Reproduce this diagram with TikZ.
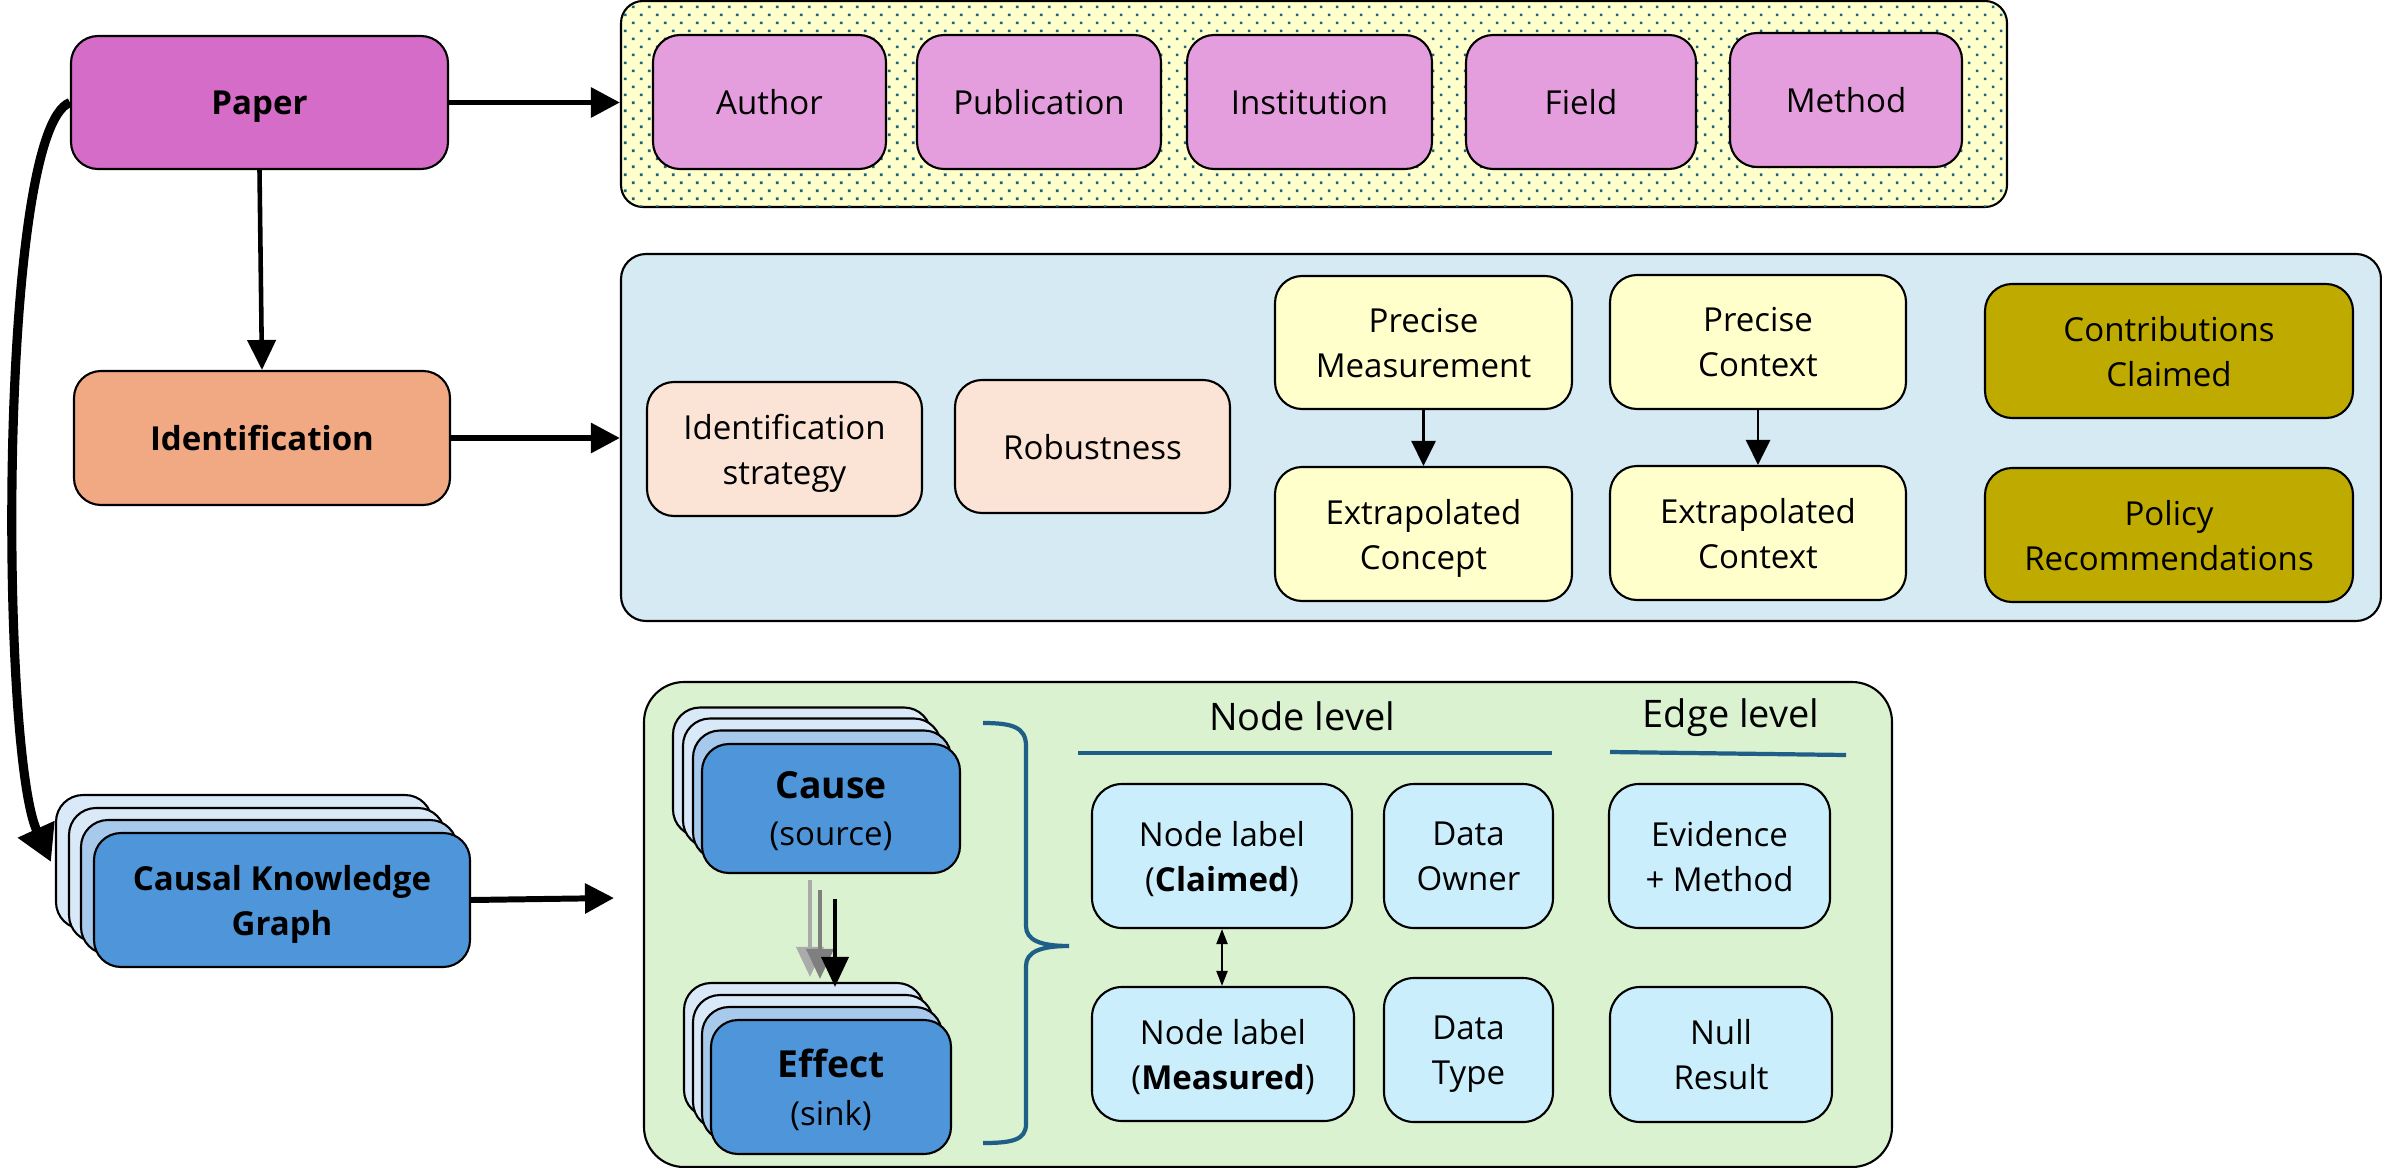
\documentclass[tikz,border=0pt]{standalone}
\usepackage{fontspec}
\setmainfont{Open Sans}
\usetikzlibrary{arrows.meta,calc,patterns}

\definecolor{paperc}{HTML}{D56CC7}
\definecolor{attrc}{HTML}{E49EDD}
\definecolor{identc}{HTML}{F1A983}
\definecolor{peachc}{HTML}{FBE3D6}
\definecolor{creamc}{HTML}{FFFFCC}
\definecolor{olivec}{HTML}{BFAB00}
\definecolor{ckgc}{HTML}{4E95D9}
\definecolor{ckgmid}{HTML}{A6C9EC}
\definecolor{ckglight}{HTML}{DAE9F8}
\definecolor{skyc}{HTML}{CAEEFB}
\definecolor{yellowbg}{HTML}{FFFFCC}
\definecolor{dotc}{HTML}{1F6382}
\definecolor{bluebg}{HTML}{D6EAF4}
\definecolor{stripec}{HTML}{E1E8EC}
\definecolor{greenbg}{HTML}{DAF2D0}
\definecolor{dashc}{HTML}{E6ECE2}
\definecolor{tealc}{HTML}{1F5F87}
\definecolor{greyA}{HTML}{ABABAB}
\definecolor{greyB}{HTML}{7F7F7F}

% staggered dot grid: 1.6mm cells, one dot per half-cell row
\pgfdeclarepatternformonly{yeldots}{\pgfqpoint{-0.1pt}{-0.1pt}}{\pgfqpoint{4.65pt}{4.65pt}}{\pgfqpoint{4.552pt}{4.552pt}}{
  \pgfpathrectangle{\pgfqpoint{0pt}{0pt}}{\pgfqpoint{0.74pt}{0.74pt}}
  \pgfpathrectangle{\pgfqpoint{2.276pt}{2.276pt}}{\pgfqpoint{0.74pt}{0.74pt}}
  \pgfusepath{fill}}

\newcommand\txtsize{\fontsize{9.4}{12.8}\selectfont}
\newcommand\cardsize{\fontsize{9.4}{13.6}\selectfont}
\newcommand\hdrsize{\fontsize{10.8}{13}\selectfont}
\newcommand\bigsize{\fontsize{10.6}{13.4}\selectfont}

\begin{document}
\begin{tikzpicture}[x=0.1mm,y=-0.1mm,
  box/.style={draw=black, line width=0.6pt, rounded corners=2.7mm, align=center,
              inner sep=0pt, font=\txtsize, text=black, text depth=0pt},
  sz/.style 2 args={minimum width=#1mm, minimum height=#2mm},
  cont/.style={draw=black, line width=0.6pt, inner sep=0pt},
  bigarr/.style={draw=black, line width=1.7pt, -{Triangle[length=2.9mm,width=2.9mm]}},
  downarr/.style={draw=black, line width=1.3pt, -{Triangle[length=3mm,width=2.8mm]}},
  curvarr/.style={draw=black, line width=2.6pt, -{Triangle[length=3.6mm,width=3.8mm]}},
  smallarr/.style={draw=black, line width=0.8pt, -{Triangle[length=2.5mm,width=2.4mm]}},
  duoarr/.style={draw=black, line width=0.6pt, {Triangle[length=1.5mm,width=1.1mm]}-{Triangle[length=1.5mm,width=1.1mm]}},
  causearr/.style={line width=1.1pt, -{Triangle[length=3mm,width=2.7mm]}},
  rulerline/.style={draw=tealc, line width=1.2pt},
]
\useasboundingbox (0,0) rectangle (2382,1168);
\fill[white] (0,0) rectangle (2382,1168);

% ---------- containers ----------
\node[cont, rounded corners=2.2mm, sz={138.6}{20.6}, fill=yellowbg,
  postaction={pattern=yeldots, pattern color=dotc}] (yellowbox) at (1314,104) {};

\node[cont, rounded corners=2.5mm, sz={176.0}{36.7}, fill=bluebg,
  path picture={
    \foreach \k in {0,...,268}{
      \draw[stripec, line width=0.8pt] ({250+\k*8},625) -- ++(375,-375);
    }
  }] (bluebox) at (1501,437.5) {};

\node[cont, rounded corners=4mm, sz={124.8}{48.5}, fill=greenbg,
  path picture={
    \foreach \r in {0,...,61}{
      \pgfmathsetmacro\ph{mod(\r,2)*1}
      \draw[dashc, line width=0.5pt, dash pattern=on 1mm off 1mm, dash phase=\ph mm]
        (640,{684+\r*8}) -- (1896,{684+\r*8});
    }
  }] (greenbox) at (1268,924.5) {};

% ---------- left column ----------
\node[box, sz={37.7}{13.3}, fill=paperc, font=\txtsize\bfseries] (paper) at (259.5,102.5) {Paper};
\node[box, sz={37.6}{13.4}, fill=identc, font=\txtsize\bfseries] (ident) at (262,438) {Identification};

% stacked knowledge-graph cards
\node[box, sz={37.6}{13.4}, fill=ckglight] (ckgA) at (244,862) {};
\node[box, sz={37.6}{13.4}, fill=ckglight] (ckgB) at (257,875) {};
\node[box, sz={37.6}{13.4}, fill=ckgmid] (ckgC) at (269,887) {};
\node[box, sz={37.6}{13.4}, fill=ckgc, font=\txtsize\bfseries] (ckg) at (282,900) {Causal Knowledge\\Graph};

% ---------- paper attributes ----------
\node[box, sz={23.3}{13.4}, fill=attrc] (author) at (769.5,102) {Author};
\node[box, sz={24.4}{13.4}, fill=attrc] (publication) at (1039,102) {Publication};
\node[box, sz={24.5}{13.4}, fill=attrc] (institution) at (1309.5,102) {Institution};
\node[box, sz={23.0}{13.4}, fill=attrc] (field) at (1581,102) {Field};
\node[box, sz={23.2}{13.4}, fill=attrc] (method) at (1846,100) {Method};

% ---------- identification details ----------
\node[box, sz={27.5}{13.4}, fill=peachc] (idstrat) at (784.5,449) {Identification\\strategy};
\node[box, sz={27.5}{13.3}, fill=peachc] (robust) at (1092.5,446.5) {Robustness};
\node[box, sz={29.7}{13.3}, fill=creamc] (pmeas) at (1423.5,342.5) {Precise\\Measurement};
\node[box, sz={29.7}{13.4}, fill=creamc] (econc) at (1423.5,534) {Extrapolated\\Concept};
\node[box, sz={29.6}{13.4}, fill=creamc] (pctx) at (1758,342) {Precise\\Context};
\node[box, sz={29.6}{13.4}, fill=creamc] (ectx) at (1758,533) {Extrapolated\\Context};
\node[box, sz={36.8}{13.4}, fill=olivec] (contrib) at (2169,351) {Contributions\\Claimed};
\node[box, sz={36.8}{13.4}, fill=olivec] (policy) at (2169,535) {Policy\\Recommendations};

\draw[smallarr] (pmeas) -- (econc);
\draw[smallarr] (pctx) -- (ectx);

% ---------- graph schema ----------
\node[box, sz={25.8}{12.9}, fill=ckglight] (causeA) at (802,772) {};
\node[box, sz={25.8}{12.9}, fill=ckglight] (causeB) at (812,783) {};
\node[box, sz={25.8}{12.9}, fill=ckgmid] (causeC) at (822,795) {};
\node[box, sz={25.8}{12.9}, fill=ckgc, font=\cardsize]
  (cause) at (831,808.5) {{\bigsize\bfseries Cause}\\(source)};

\node[box, sz={24.0}{13.4}, fill=ckglight] (effectA) at (804,1050) {};
\node[box, sz={24.0}{13.4}, fill=ckglight] (effectB) at (813,1062) {};
\node[box, sz={24.0}{13.4}, fill=ckgmid] (effectC) at (822,1074) {};
\node[box, sz={24.0}{13.4}, fill=ckgc, font=\cardsize]
  (effect) at (831,1087) {{\bigsize\bfseries Effect}\\(sink)};

\draw[causearr, greyA] ($(cause.south)+(-21,6)$) -- ($(effect.north)+(-21,-42)$);
\draw[causearr, greyB] ($(cause.south)+(-11,16)$) -- ($(effect.north)+(-11,-40)$);
\draw[causearr, black] ($(cause.south)+(4,25)$) -- ($(effect.north)+(4,-32)$);

% brace grouping the two card stacks
\draw[tealc, line width=1.2pt]
  (983,723) .. controls (1012,723) and (1026,727) .. (1026,746)
  -- (1026,926) .. controls (1026,940) and (1040,946) .. (1069,946)
  .. controls (1040,946) and (1026,952) .. (1026,966)
  -- (1026,1124) .. controls (1026,1140) and (1012,1143) .. (983,1143);

\node[font=\hdrsize] (nodelevel) at (1302,716) {Node level};
\node[font=\hdrsize] (edgelevel) at (1731,718) {Edge level};
\draw[rulerline] (1078,753) -- (1552,753);
\draw[rulerline] (1610,752) -- (1846,755);

\node[box, rounded corners=3mm, sz={26.0}{14.4}, fill=skyc] (nclaim) at (1222,856) {Node label\\(\textbf{Claimed})};
\node[box, rounded corners=3mm, sz={16.9}{14.4}, fill=skyc] (downer) at (1468.5,856) {Data\\Owner};
\node[box, rounded corners=3mm, sz={26.2}{13.4}, fill=skyc] (nmeas) at (1223,1054) {Node label\\(\textbf{Measured})};
\node[box, rounded corners=3mm, sz={16.9}{14.4}, fill=skyc] (dtype) at (1468.5,1050) {Data\\Type};
\node[box, rounded corners=3mm, sz={22.1}{14.4}, fill=skyc] (evid) at (1719.5,856) {Evidence\\+ Method};
\node[box, rounded corners=3mm, sz={22.2}{13.5}, fill=skyc] (nullr) at (1721,1054.5) {Null\\Result};

\draw[duoarr] (nclaim.south) -- (nmeas.north -| nclaim.south);

% ---------- main flow ----------
\coordinate (ckgin) at (51,862);
\coordinate (ckgout) at (614,898);
\draw[bigarr] (paper.east) -- (paper.east -| yellowbox.west);
\draw[downarr] (paper.south) -- (ident.north);
\draw[bigarr] (ident.east) -- (ident.east -| bluebox.west);
\draw[bigarr] (ckg.east) -- (ckgout);
\draw[curvarr] (paper.west) .. controls (-2,130) and (0,750) .. (ckgin);
\end{tikzpicture}
\end{document}
